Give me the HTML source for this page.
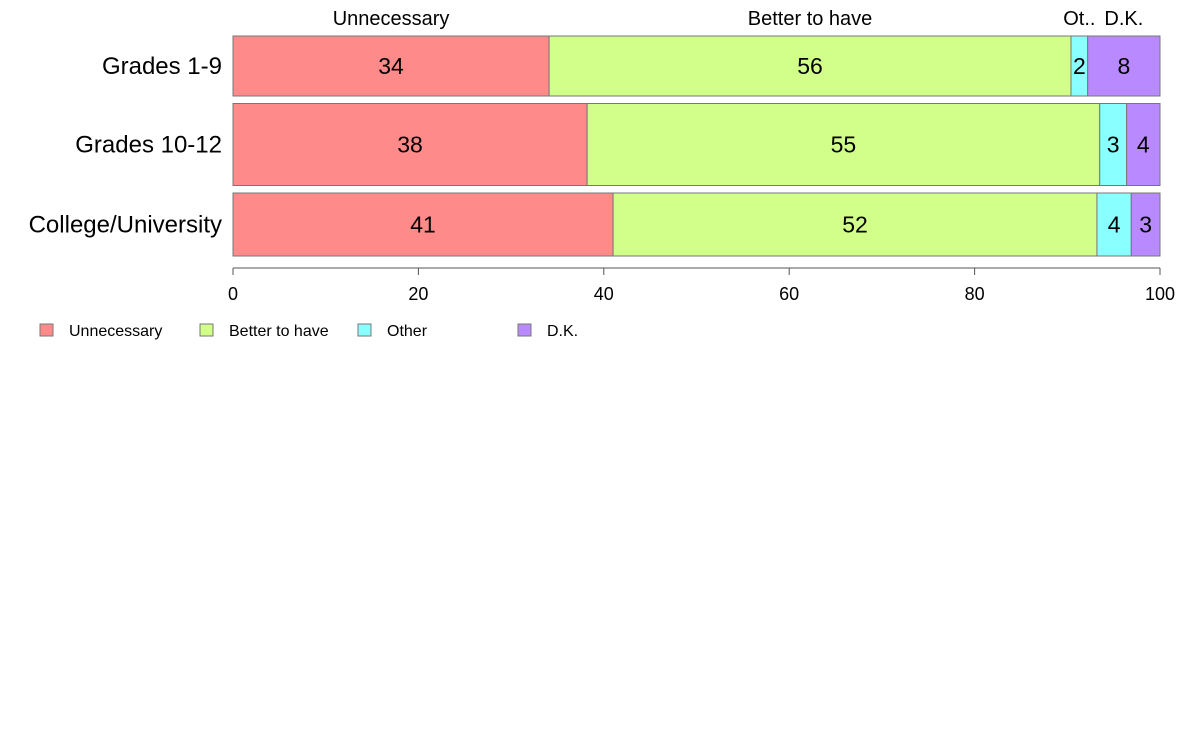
<!DOCTYPE html>
<html><head><meta charset="utf-8">
<style>
html,body{margin:0;padding:0;background:#fff;}
svg{display:block;font-family:"Liberation Sans",Arial,sans-serif;}
</style></head>
<body>
<svg id="chart" width="1188" height="736" viewBox="0 0 1188 736" xmlns="http://www.w3.org/2000/svg"></svg>
<script>
const categories = ["Grades 1-9", "Grades 10-12", "College/University"];
const seriesNames = ["Unnecessary", "Better to have", "Other", "D.K."];
const headerLabels = ["Unnecessary", "Better to have", "Ot..", "D.K."];
const unnecessary = [34.1, 38.2, 41.0];
const betterToHave = [56.3, 55.3, 52.2];
const other = [1.8, 2.9, 3.7];
const dk = [7.8, 3.6, 3.1];
const groupWeights = [60, 82, 63];
const xTicks = [0, 20, 40, 60, 80, 100];
const colors = ["#ff8a8a", "#d1ff8a", "#8affff", "#b98aff"];

const svg = document.getElementById('chart');
const NS = 'http://www.w3.org/2000/svg';
function mk(tag, attrs, parent){const e=document.createElementNS(NS,tag);for(const k in attrs)e.setAttribute(k,attrs[k]);(parent||svg).appendChild(e);return e;}

const x0 = 233, x1 = 1160;
const xScale = v => x0 + (x1 - x0) * v / 100;
const barTop = 36, barBottom = 256, gap = 7.5;
const totalW = groupWeights.reduce((a,b)=>a+b,0);
const avail = barBottom - barTop - gap*(categories.length-1);
const series = [unnecessary, betterToHave, other, dk];

let yPos = barTop;
categories.forEach((cat, i) => {
  const h = avail * groupWeights[i] / totalW;
  const lbl = mk('text', {x: 222, y: yPos + h/2 + 8, 'text-anchor':'end', 'font-size': 24, fill:'#000'});
  lbl.textContent = cat;
  
  
  let cum = 0;
  series.forEach((s, j) => {
    const v = s[i];
    const xa = xScale(cum), xb = xScale(cum + v);
    const r = mk('rect', {x: xa, y: yPos, width: xb - xa, height: h, fill: colors[j], stroke:'#777', 'stroke-width':1});
    
    
    const t = mk('text', {x: (xa+xb)/2, y: yPos + h/2 + 8, 'text-anchor':'middle', 'font-size': 23, fill:'#000'});
    t.textContent = Math.round(v);
    
    
    if (i === 0) {
      const hd = mk('text', {x: (xa+xb)/2, y: 25, 'text-anchor':'middle', 'font-size': 20, fill:'#000'});
      hd.textContent = headerLabels[j];
      
      
    }
    cum += v;
  });
  yPos += h + gap;
});

const ax = mk('line', {x1: x0, x2: x1, y1: 268, y2: 268, stroke:'#555', 'stroke-width':1});


xTicks.forEach(tv => {
  const tx = xScale(tv);
  const tk = mk('line', {x1: tx, x2: tx, y1: 268, y2: 275, stroke:'#555'});
  
  
  const tl = mk('text', {x: tx, y: 300, 'text-anchor':'middle', 'font-size': 18, fill:'#000'});
  tl.textContent = tv;
  
  
});

const legendX = [40, 200, 358, 518];
seriesNames.forEach((n, j) => {
  const g = mk('g', {});
  
  
  mk('rect', {x: legendX[j], y: 324, width: 13, height: 12, fill: colors[j], stroke:'#777'}, g);
  const t = mk('text', {x: legendX[j] + 29, y: 336, 'font-size': 16, fill:'#000'}, g);
  t.textContent = n;
});
</script>
</body></html>
